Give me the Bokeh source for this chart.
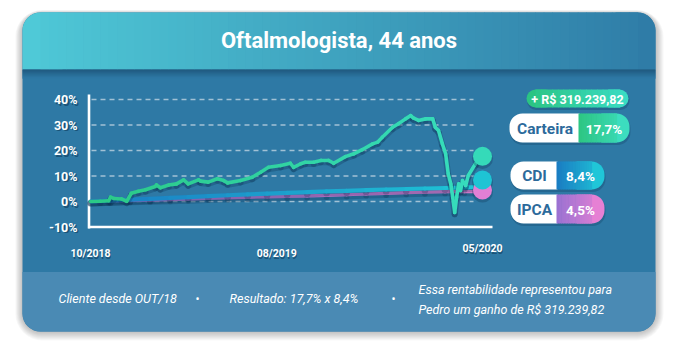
import numpy as np
import pandas as pd
from bokeh.plotting import figure
from bokeh.models import Range1d
from bokeh.core.properties import value
from bokeh.embed import file_html
from bokeh.resources import INLINE

# ---------------- data ----------------
titulo = "Oftalmologista, 44 anos"

carteira_datas = [
    "2018-10-01", "2018-10-16", "2018-10-29", "2018-11-01", "2018-11-06", "2018-11-18",
    "2018-11-26", "2018-12-03", "2018-12-14", "2018-12-25", "2019-01-09", "2019-01-11",
    "2019-01-17", "2019-01-30", "2019-02-11", "2019-02-22", "2019-03-01", "2019-03-17",
    "2019-03-20", "2019-04-01", "2019-04-15", "2019-04-25", "2019-05-01", "2019-05-21",
    "2019-06-08", "2019-06-21", "2019-07-03", "2019-07-22", "2019-08-06", "2019-08-11",
    "2019-08-22", "2019-08-29", "2019-09-11", "2019-09-22", "2019-10-04", "2019-10-12",
    "2019-10-30", "2019-11-12", "2019-11-25", "2019-12-11", "2019-12-19", "2019-12-26",
    "2020-01-11", "2020-01-20", "2020-01-31", "2020-02-08", "2020-02-12", "2020-02-20",
    "2020-03-02", "2020-03-13", "2020-03-17", "2020-03-22", "2020-03-28", "2020-04-02",
    "2020-04-06", "2020-04-10", "2020-04-13", "2020-04-16", "2020-04-19", "2020-04-22",
    "2020-04-25", "2020-04-28", "2020-05-03", "2020-05-07", "2020-05-18", "2020-05-29",
]
carteira_pct = [
    0.0, 0.1, 0.3, 1.7, 1.2, 1.0, 0.1, 3.2, 4.0, 4.6,
    5.9, 6.5, 5.4, 6.5, 6.9, 8.5, 6.9, 8.5, 8.0, 7.6,
    8.9, 8.2, 7.3, 8.2, 9.5, 11.5, 13.4, 14.1, 15.0, 13.4,
    14.8, 15.4, 15.4, 16.1, 16.1, 15.0, 17.6, 18.7, 20.3, 22.6,
    23.3, 25.2, 29.1, 30.5, 32.4, 33.7, 32.8, 31.8, 32.4, 32.4,
    29.1, 27.8, 22.6, 18.7, 10.9, 6.9, 1.7, -4.3, 1.7, 6.9,
    4.3, 8.2, 6.3, 10.2, 14.8, 17.7,
]

indice_datas = [
    "2018-10-01", "2018-11-01", "2018-12-01", "2019-01-01", "2019-02-01", "2019-03-01",
    "2019-04-01", "2019-05-01", "2019-06-01", "2019-07-01", "2019-08-01", "2019-09-01",
    "2019-10-01", "2019-11-01", "2019-12-01", "2020-01-01", "2020-02-01", "2020-03-01",
    "2020-04-01", "2020-05-01", "2020-05-29",
]
cdi_pct = [0.0, 0.35, 0.7, 1.05, 1.4, 1.75, 2.1, 2.45, 2.8, 3.1, 3.4,
           3.7, 3.95, 4.2, 4.45, 4.7, 4.9, 5.1, 5.3, 5.5, 5.7]
ipca_pct = [0.0, 0.15, 0.3, 0.5, 0.7, 0.95, 1.2, 1.4, 1.6, 1.8, 2.0,
            2.2, 2.4, 2.65, 2.95, 3.2, 3.45, 3.7, 3.85, 3.9, 3.9]

y_ticks = [40, 30, 20, 10, 0, -10]
y_tick_labels = ["40%", "30%", "20%", "10%", "0%", "-10%"]
x_tick_datas = ["2018-10-01", "2019-07-16", "2020-05-29"]
x_tick_labels = ["10/2018", "08/2019", "05/2020"]

serie_nomes = ["Carteira", "CDI", "IPCA"]
serie_finais = [17.7, 8.4, 4.5]
serie_textos = ["17,7%", "8,4%", "4,5%"]
ganho_texto = "+ R$ 319.239,82"
rodape_1 = "Cliente desde OUT/18"
rodape_2 = "Resultado: 17,7% x 8,4%"
rodape_3 = ["Essa rentabilidade representou para", "Pedro um ganho de R$ 319.239,82"]

# ---------------- layout ----------------
W, H = 672, 360
OX, OY = 0, 0


def Y(wy):
    return OY + H - wy


def ms(lst):
    return pd.to_datetime(lst).values.astype("datetime64[ms]").astype("int64").astype(float)


def hex2rgb(h):
    h = h.lstrip("#")
    return tuple(int(h[i:i + 2], 16) for i in (0, 2, 4))


def mix(c0, c1, t):
    a, b = hex2rgb(c0), hex2rgb(c1)
    return "#%02x%02x%02x" % tuple(int(round(a[i] + (b[i] - a[i]) * t)) for i in range(3))


FONT = value("Roboto")
BODY = "#2E79A5"
FOOT = "#4A8AB4"
HEAD0, HEAD1 = "#4FC9D7", "#2F7CA7"
LABEL_BLUE = "#2C6A9B"

tc = ms(carteira_datas)
t0, t1 = tc[0], tc[-1]
PX0, PX1 = 90, 482
k = (t1 - t0) / (PX1 - PX0)
ZERO_WY, PX_PER_PCT = 201.0, 2.55

p = figure(width=W, height=H, x_range=Range1d(OX, OX + W), y_range=Range1d(0, H),
           output_backend="svg", toolbar_location=None, min_border=0,
           x_axis_type=None, y_axis_type=None, outline_line_color=None,
           background_fill_color="white", border_fill_color="white")
p.extra_x_ranges = {"t": Range1d(t0 - (PX0 - OX) * k, t1 + (OX + W - PX1) * k)}
p.extra_y_ranges = {"pct": Range1d(-(OY + H - ZERO_WY) / PX_PER_PCT, (ZERO_WY - OY) / PX_PER_PCT)}

# card shadow
for s in range(1, 10):
    p.quad(left=22 - s * 0.8, right=655 + s * 0.9, top=Y(12 - s * 0.4 + 1), bottom=Y(331 + s * 1.0),
           border_radius=18 + s, fill_color="#000000", fill_alpha=0.028, line_color=None)

# card body
p.quad(left=22, right=655, top=Y(12), bottom=Y(331), border_radius=18,
       fill_color=BODY, line_color=None)

# header gradient
CL, CR, R = 22, 655, 18
p.quad(left=CL, right=CL + 2 * R + 4, top=Y(12), bottom=Y(69),
       border_radius=dict(top_left=R, top_right=0, bottom_right=0, bottom_left=0),
       fill_color=HEAD0, line_color=None)
p.quad(left=CR - 2 * R - 4, right=CR, top=Y(12), bottom=Y(69),
       border_radius=dict(top_left=0, top_right=R, bottom_right=0, bottom_left=0),
       fill_color=HEAD1, line_color=None)
xs = np.linspace(CL + R, CR - R, 71)
cols = [mix(HEAD0, HEAD1, ((a + b) / 2 - CL) / (CR - CL)) for a, b in zip(xs[:-1], xs[1:])]
p.quad(left=xs[:-1], right=xs[1:] + 0.7, top=Y(12), bottom=Y(69), fill_color=cols, line_color=None)

# darker band below header
ys = np.arange(69, 78, 1.0)
bcols = [mix("#1F567B", BODY, i / (len(ys) - 1)) for i in range(len(ys))]
p.quad(left=CL, right=CR, top=[Y(v) for v in ys], bottom=[Y(v + 1.3) for v in ys],
       fill_color=bcols, line_color=None)

# footer
p.quad(left=CL, right=CR, top=Y(271.5), bottom=Y(331),
       border_radius=dict(top_left=0, top_right=0, bottom_right=R, bottom_left=R),
       fill_color=FOOT, line_color=None)

# title
p.text(x=[(CL + CR) / 2], y=[Y(40)], text=[titulo], text_align="center", text_baseline="middle",
       text_font=FONT, text_font_style="bold", text_font_size="22px", text_color="white")

# grid lines
grid_vals = [v for v in y_ticks if v > y_ticks[-1]]
p.segment(x0=91, x1=473, y0=grid_vals, y1=grid_vals, y_range_name="pct",
          line_color="#C8DAE6", line_alpha=0.75, line_width=1.3, line_dash="5 4")

# axis frame
p.line(x=[88.5, 88.5], y=[Y(94), Y(228)], line_color="white", line_width=2.6)
p.segment(x0=[87.5], x1=[492], y0=[y_ticks[-1]], y1=[y_ticks[-1]], y_range_name="pct",
          line_color="white", line_width=2.6)

# y tick labels
p.text(x=77.8, y=y_ticks, text=y_tick_labels, y_range_name="pct", text_align="right",
       text_baseline="middle", x_offset=0.8, y_offset=1.6, text_font=FONT, text_font_style="bold",
       text_font_size="12.5px", text_color="#0B3350", text_alpha=0.55)
p.text(x=77, y=y_ticks, text=y_tick_labels, y_range_name="pct", text_align="right",
       text_baseline="middle", text_font=FONT, text_font_style="bold",
       text_font_size="12.5px", text_color="white")

# x tick labels
xt = ms(x_tick_datas)
xl_y = [Y(253), Y(253), Y(248)]
p.text(x=xt, y=xl_y, text=x_tick_labels, x_range_name="t", text_align="center",
       text_baseline="middle", x_offset=0.8, y_offset=1.6, text_font=FONT, text_font_style="bold",
       text_font_size="10.5px", text_color="#0B3350", text_alpha=0.55)
p.text(x=xt, y=xl_y, text=x_tick_labels, x_range_name="t", text_align="center",
       text_baseline="middle", text_font=FONT, text_font_style="bold",
       text_font_size="10.5px", text_color="white")


def grad_series(tx, vals, c0, c1, width, shadow=True):
    tx = np.asarray(tx, float)
    vals = np.asarray(vals, float)
    mid = (tx[:-1] + tx[1:]) / 2
    cs = [mix(c0, c1, (m - t0) / (t1 - t0)) for m in mid]
    if shadow:
        p.segment(x0=tx[:-1], x1=tx[1:], y0=vals[:-1] - 0.7, y1=vals[1:] - 0.7,
                  x_range_name="t", y_range_name="pct", line_color="#0C3452", line_alpha=0.28,
                  line_width=width + 2.5, line_cap="round")
    p.segment(x0=tx[:-1], x1=tx[1:], y0=vals[:-1], y1=vals[1:], x_range_name="t",
              y_range_name="pct", line_color=cs, line_width=width, line_cap="round",
              line_join="round")


ti = ms(indice_datas)
grad_series(ti, ipca_pct, "#9A72D2", "#E680D4", 3.2)
grad_series(ti, cdi_pct, "#1A7BC3", "#1EC6D6", 4.2)
grad_series(tc, carteira_pct, "#2BC986", "#37DDBF", 3.6)

# end markers
end_cols = ["#35DAB9", "#1EC4D4", "#E17FD5"]
order = [2, 1, 0]
p.scatter(x=[t1] * 3, y=[serie_finais[i] - 0.8 for i in order], size=21, x_range_name="t",
          y_range_name="pct", fill_color="#0C3452", fill_alpha=0.3, line_color=None)
p.scatter(x=[t1] * 3, y=[serie_finais[i] for i in order], size=19, x_range_name="t",
          y_range_name="pct", fill_color=[end_cols[i] for i in order], line_color=None)


# pills
def pill(left, right, top, bottom, r, c0, c1, split=None):
    p.quad(left=left + 0.5, right=right + 1, top=Y(top + 1.5), bottom=Y(bottom + 2.5),
           border_radius=r, fill_color="#0C3452", fill_alpha=0.25, line_color=None)
    gl = left if split is None else split
    if split is None:
        p.quad(left=left, right=left + 2 * r + 2, top=Y(top), bottom=Y(bottom),
               border_radius=dict(top_left=r, top_right=0, bottom_right=0, bottom_left=r),
               fill_color=c0, line_color=None)
        g0 = left + r
    else:
        p.quad(left=left, right=split + 1, top=Y(top), bottom=Y(bottom),
               border_radius=dict(top_left=r, top_right=0, bottom_right=0, bottom_left=r),
               fill_color="white", line_color=None)
        g0 = split
    p.quad(left=right - 2 * r - 2, right=right, top=Y(top), bottom=Y(bottom),
           border_radius=dict(top_left=0, top_right=r, bottom_right=r, bottom_left=0),
           fill_color=c1, line_color=None)
    gx = np.linspace(g0, right - r, 16)
    gc = [mix(c0, c1, ((a + b) / 2 - gl) / (right - gl)) for a, b in zip(gx[:-1], gx[1:])]
    p.quad(left=gx[:-1], right=gx[1:] + 0.6, top=Y(top), bottom=Y(bottom), fill_color=gc,
           line_color=None)


pill(526, 628, 89, 107, 9, "#2BC483", "#3ADCC3")
p.text(x=[577], y=[Y(98.5)], text=[ganho_texto], text_align="center", text_baseline="middle",
       text_font=FONT, text_font_style="bold", text_font_size="12.5px", text_color="white")

pills = [(509, 629, 113, 142, 578, "#2DC683", "#3CDDBF"),
         (510, 604, 161, 189, 556, "#1A7CC2", "#20C6D8"),
         (510, 604, 194, 223, 556, "#9A72D2", "#E680D4")]
for i, (l, r_, t, b, sp, c0, c1) in enumerate(pills):
    pill(l, r_, t, b, 13, c0, c1, split=sp)
    cy = Y((t + b) / 2 + 0.5)
    p.text(x=[(l + sp) / 2 + 1], y=[cy], text=[serie_nomes[i]], text_align="center",
           text_baseline="middle", text_font=FONT, text_font_style="bold",
           text_font_size="15.5px", text_color=LABEL_BLUE)
    p.text(x=[(sp + r_) / 2], y=[cy], text=[serie_textos[i]], text_align="center",
           text_baseline="middle", text_font=FONT, text_font_style="bold",
           text_font_size="13.5px", text_color="white")

# footer texts
p.text(x=[58, 229], y=[Y(298), Y(298)], text=[rodape_1, rodape_2], text_align="left",
       text_baseline="middle", text_font=FONT, text_font_style="italic",
       text_font_size="12.5px", text_color="white")
p.text(x=[197, 393], y=[Y(298), Y(298)], text=["•", "•"], text_align="center",
       text_baseline="middle", text_font=FONT, text_font_size="12px", text_color="white")
p.text(x=[418, 418], y=[Y(289), Y(309)], text=rodape_3, text_align="left",
       text_baseline="middle", text_font=FONT, text_font_style="italic",
       text_font_size="12.5px", text_color="white")

open("out.html", "w").write(file_html(p, INLINE))
